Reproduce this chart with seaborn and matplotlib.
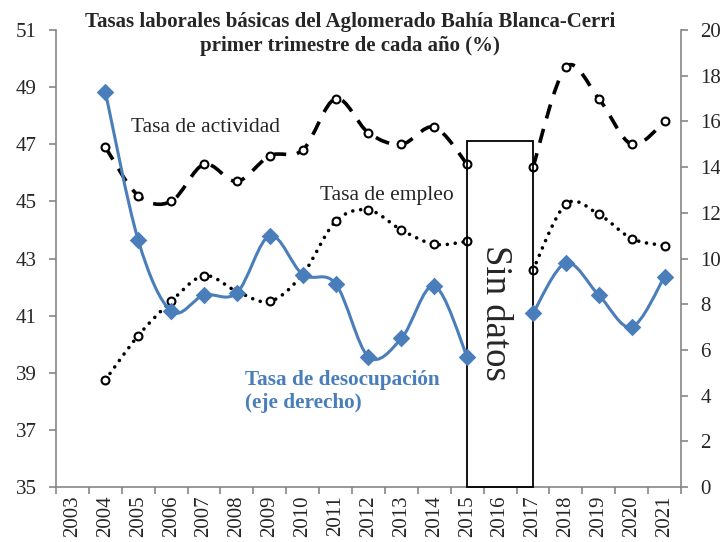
import numpy as np
import matplotlib
matplotlib.use("Agg")
import matplotlib.pyplot as plt
from matplotlib.path import Path
from matplotlib.patches import PathPatch, Rectangle
import seaborn as sns
import pandas as pd

nan = np.nan
years = [str(y) for y in range(2003, 2022)]
actividad = [nan, 46.9, 45.2, 45.0, 46.3, 45.7, 46.6, 46.8, 48.6, 47.4, 47.0,
             47.6, 46.3, nan, 46.2, 49.7, 48.6, 47.0, 47.8]
empleo = [nan, 38.75, 40.3, 41.5, 42.4, 41.85, 41.5, 42.45, 44.3, 44.7, 44.0,
          43.5, 43.6, nan, 42.6, 44.9, 44.55, 43.7, 43.45]
desocupacion = [nan, 17.3, 10.8, 7.7, 8.4, 8.5, 11.0, 9.3, 8.9, 5.7, 6.5,
                8.8, 5.7, nan, 7.6, 9.8, 8.4, 7.0, 9.2]

df = pd.DataFrame({"x": np.arange(len(years)), "year": years,
                   "actividad": actividad, "empleo": empleo,
                   "desocupacion": desocupacion})

sns.set_style("white")
plt.rcParams["font.family"] = ["Liberation Serif", "DejaVu Serif"]

BLUE = "#4a7ebb"
GRAY = "#868686"


def smooth_patch(x, y, **kw):
    # Excel-style smoothed line: cubic bezier through points, split at gaps
    x = np.asarray(x, float)
    y = np.asarray(y, float)
    ok = ~np.isnan(y)
    verts, codes = [], []
    runs = np.split(np.arange(len(y)), np.where(np.diff(ok.astype(int)) != 0)[0] + 1)
    for r in runs:
        if not ok[r[0]] or len(r) < 2:
            continue
        P = np.column_stack([x[r], y[r]])
        n = len(P)
        verts.append(P[0]); codes.append(Path.MOVETO)
        for i in range(n - 1):
            pm = P[max(i - 1, 0)]
            pp = P[min(i + 2, n - 1)]
            c1 = P[i] + (P[i + 1] - pm) / 6
            c2 = P[i + 1] - (pp - P[i]) / 6
            verts += [c1, c2, P[i + 1]]
            codes += [Path.CURVE4] * 3
    return PathPatch(Path(verts, codes), fill=False, **kw)


fig = plt.figure(figsize=(7.2, 5.42), dpi=100)
ax = fig.add_axes([0.0778, 0.1015, 0.868, 0.843])
ax2 = ax.twinx()

# left axis series
ax.add_patch(smooth_patch(df["x"], df["actividad"], edgecolor="black", lw=2.6,
                          linestyle=(0, (4, 3)), capstyle="butt", zorder=3))
ax.add_patch(smooth_patch(df["x"], df["empleo"], edgecolor="black", lw=2.6,
                          linestyle=(0, (0.01, 2.2)), capstyle="round", zorder=3))
sns.scatterplot(data=df, x="x", y="actividad", ax=ax, marker="o", s=32,
                color="white", edgecolor="black", linewidth=1.5, zorder=4)
sns.scatterplot(data=df, x="x", y="empleo", ax=ax, marker="o", s=32,
                color="white", edgecolor="black", linewidth=1.5, zorder=4)

# right axis series
ax2.add_patch(smooth_patch(df["x"], df["desocupacion"], edgecolor=BLUE, lw=2.2,
                           zorder=3))
sns.scatterplot(data=df, x="x", y="desocupacion", ax=ax2, marker="D", s=80,
                color=BLUE, edgecolor=BLUE, linewidth=0, zorder=4)

# "Sin datos" box
ax.add_patch(Rectangle((12, 35), 2, 47.13 - 35, fill=False, edgecolor="black",
                       lw=1.3, zorder=5, clip_on=False))
ax.text(12.85, 41.1, "Sin datos", rotation=-90, ha="center", va="center",
        fontsize=26.5, zorder=6)

ax.set_xlim(-0.5, len(years) - 0.5)
ax.set_ylim(35, 51)
ax.set_yticks(np.arange(35, 52, 2))
ax2.set_ylim(0, 20)
ax2.set_yticks(np.arange(0, 21, 2))
ax.set_xticks(df["x"])
ax.set_xticklabels(years, rotation=90)
ax.set_xticks(np.arange(-0.5, len(years), 1), minor=True)
ax.set_xlabel("")
ax.set_ylabel("")
ax2.set_ylabel("")

for a in (ax, ax2):
    for s in a.spines.values():
        s.set_visible(False)
ax.spines["left"].set_visible(True)
ax.spines["bottom"].set_visible(True)
ax2.spines["right"].set_visible(True)
for s in (ax.spines["left"], ax.spines["bottom"], ax2.spines["right"]):
    s.set_color(GRAY)
    s.set_linewidth(1.2)

ax.tick_params(axis="y", direction="out", length=5, width=1.2, color=GRAY,
               labelsize=15, pad=9, left=True)
ax.tick_params(axis="x", which="major", length=0, labelsize=15, pad=6)
ax.tick_params(axis="x", which="minor", direction="out", length=5, width=1.2,
               color=GRAY, bottom=True)
ax2.tick_params(axis="y", direction="out", length=5, width=1.2, color=GRAY,
                labelsize=15, pad=9, right=True)

ax.text(1.78, 47.6, "Tasa de actividad", fontsize=15.5, ha="left", va="center")
ax.text(7.52, 45.2, "Tasa de empleo", fontsize=15.5, ha="left", va="center")
ax.text(5.24, 38.34, "Tasa de desocupación\n(eje derecho)", fontsize=15.3,
        fontweight="bold", color=BLUE, ha="left", va="center", linespacing=1.15)

fig.text(0.486, 0.978, "Tasas laborales básicas del Aglomerado Bahía Blanca-Cerri\n"
         "primer trimestre de cada año (%)", ha="center", va="top",
         fontsize=15, fontweight="bold", linespacing=1.25)

fig.savefig("out.png", dpi=100)
